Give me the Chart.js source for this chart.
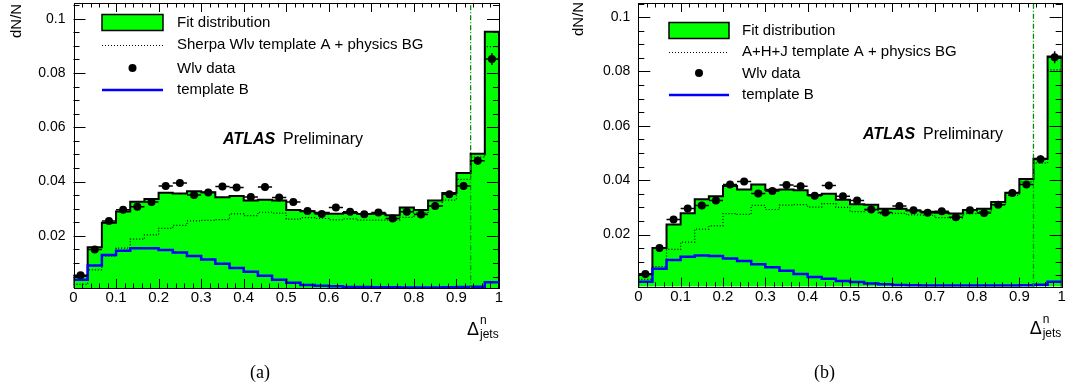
<!DOCTYPE html>
<html>
<head>
<meta charset="utf-8">
<title>Delta n jets template fit</title>
<script src="https://cdn.jsdelivr.net/npm/chart.js@4.4.1/dist/chart.umd.min.js"></script>
<style>
    html, body { margin: 0; padding: 0; background: #fff; }
    body { width: 1067px; height: 392px; position: relative; overflow: hidden; }
    canvas { position: absolute; top: -1px; }
    #chartA { left: 0; }
    #chartB { left: 533px; }
    .caption {
        position: absolute; top: 362px;
        font-family: "Liberation Serif", "DejaVu Serif", serif; font-size: 18px;
    }
</style>
</head>
<body>
<canvas id="chartA" width="533" height="393"></canvas>
<canvas id="chartB" width="534" height="393"></canvas>
<div class="caption" style="left:250px">(a)</div>
<div class="caption" style="left:814px">(b)</div>

<script>
/* ==========================
   DATA
========================== */
const nBins = 30;
const xLow = 0, xHigh = 1;
const xTickValues = [0, 0.1, 0.2, 0.3, 0.4, 0.5, 0.6, 0.7, 0.8, 0.9, 1];
const yTickValues = [0.02, 0.04, 0.06, 0.08, 0.1];
const cutX = 0.9333;

// W->lnu data, same in both panels
const wlnuData = [0.0055, 0.0150, 0.0255, 0.0296, 0.0307, 0.0325, 0.0384, 0.0395, 0.0351, 0.0360,
                  0.0382, 0.0378, 0.0343, 0.0380, 0.0341, 0.0325, 0.0292, 0.0281, 0.0305, 0.0289,
                  0.0280, 0.0286, 0.0264, 0.0289, 0.0279, 0.0310, 0.0353, 0.0384, 0.0477, 0.0852];
const wlnuErr = [0.0006, 0.0009, 0.0011, 0.0011, 0.0012, 0.0012, 0.0013, 0.0013, 0.0012, 0.0012,
                 0.0013, 0.0013, 0.0012, 0.0013, 0.0012, 0.0012, 0.0011, 0.0011, 0.0011, 0.0011,
                 0.0011, 0.0011, 0.0011, 0.0011, 0.0011, 0.0012, 0.0012, 0.0013, 0.0015, 0.0022];

// (a) Sherpa
const fitA = [0.0052, 0.0158, 0.0248, 0.0290, 0.0326, 0.0336, 0.0359, 0.0356, 0.0364, 0.0361,
              0.0342, 0.0347, 0.0330, 0.0333, 0.0330, 0.0295, 0.0291, 0.0285, 0.0282, 0.0284,
              0.0281, 0.0282, 0.0276, 0.0305, 0.0295, 0.0330, 0.0358, 0.0432, 0.0503, 0.0952];
const templABgA = [0.0021, 0.0075, 0.0125, 0.0155, 0.0188, 0.0204, 0.0228, 0.0239, 0.0255, 0.0257,
                   0.0260, 0.0281, 0.0275, 0.0287, 0.0284, 0.0262, 0.0267, 0.0264, 0.0259, 0.0263,
                   0.0258, 0.0258, 0.0258, 0.0268, 0.0284, 0.0310, 0.0332, 0.0408, 0.0490, 0.0897];
const templBA = [0.0038, 0.0091, 0.0130, 0.0145, 0.0154, 0.0154, 0.0148, 0.0139, 0.0126, 0.0113,
                 0.0097, 0.0082, 0.0068, 0.0053, 0.0038, 0.0027, 0.0019, 0.0016, 0.0014, 0.0012,
                 0.0012, 0.0011, 0.0011, 0.0010, 0.0010, 0.0010, 0.0011, 0.0012, 0.0013, 0.0029];

// (b) A+H+J
const fitB = [0.0054, 0.0150, 0.0237, 0.0278, 0.0330, 0.0341, 0.0379, 0.0366, 0.0384, 0.0365,
              0.0366, 0.0363, 0.0345, 0.0350, 0.0328, 0.0311, 0.0310, 0.0295, 0.0295, 0.0288,
              0.0284, 0.0280, 0.0277, 0.0290, 0.0295, 0.0320, 0.0354, 0.0404, 0.0479, 0.0855];
const templABgB = [0.0035, 0.0082, 0.0145, 0.0172, 0.0220, 0.0232, 0.0277, 0.0274, 0.0307, 0.0292,
                   0.0308, 0.0310, 0.0301, 0.0314, 0.0300, 0.0284, 0.0289, 0.0277, 0.0278, 0.0272,
                   0.0271, 0.0262, 0.0260, 0.0277, 0.0284, 0.0310, 0.0344, 0.0394, 0.0463, 0.0806];
const templBB = [0.0026, 0.0074, 0.0106, 0.0118, 0.0123, 0.0121, 0.0112, 0.0103, 0.0091, 0.0080,
                 0.0067, 0.0055, 0.0044, 0.0037, 0.0029, 0.0025, 0.0020, 0.0017, 0.0014, 0.0013,
                 0.0012, 0.0012, 0.0012, 0.0012, 0.0012, 0.0012, 0.0012, 0.0013, 0.0015, 0.0026];

const legendLabelsA = ["Fit distribution", "Sherpa Wl\u03bd template A + physics BG", "Wl\u03bd data", "template B"];
const legendLabelsB = ["Fit distribution", "A+H+J template A + physics BG", "Wl\u03bd data", "template B"];

/* ==========================
   HELPERS
========================== */
const FONT = '"Liberation Sans", Arial, Helvetica, sans-serif';
Chart.defaults.font.family = FONT;
Chart.defaults.color = "#000";

const binWidth = (xHigh - xLow) / nBins;
const binEdge = i => xLow + i * binWidth;
const binCenter = i => xLow + (i + 0.5) * binWidth;

// step points on the left bin edges; optional drop to the axis at both ends
function histPoints(values, drop) {
    const pts = [];
    if (drop) pts.push({ x: binEdge(0), y: 0 });
    values.forEach((v, i) => pts.push({ x: binEdge(i), y: v }));
    pts.push({ x: binEdge(values.length), y: values[values.length - 1] });
    if (drop) pts.push({ x: binEdge(values.length), y: 0 });
    return pts;
}

/* ==========================
   ROOT-STYLE DECORATIONS
========================== */
const rootLook = {
    id: "rootLook",
    afterDatasetsDraw(chart, args, o) {
        const { ctx, chartArea: a, scales: { x, y } } = chart;
        ctx.save();

        // error bars of the data points
        ctx.strokeStyle = "#000";
        ctx.lineWidth = 1.5;
        ctx.beginPath();
        wlnuData.forEach((v, i) => {
            const c = binCenter(i);
            const py = y.getPixelForValue(v);
            const px = x.getPixelForValue(c);
            ctx.moveTo(x.getPixelForValue(c - binWidth / 2), py);
            ctx.lineTo(x.getPixelForValue(c + binWidth / 2), py);
            ctx.moveTo(px, y.getPixelForValue(v - wlnuErr[i]));
            ctx.lineTo(px, y.getPixelForValue(v + wlnuErr[i]));
        });
        ctx.stroke();

        // frame with inward ticks on all four sides
        ctx.lineWidth = 1;
        ctx.strokeRect(Math.round(a.left) + 0.5, Math.round(a.top) + 0.5,
                       Math.round(a.right) - Math.round(a.left), Math.round(a.bottom) - Math.round(a.top));
        ctx.beginPath();
        for (let i = 0; i <= 50; i++) {
            const px = Math.round(x.getPixelForValue(i / 50)) + 0.5;
            const len = i % 5 === 0 ? 9 : 4.5;
            ctx.moveTo(px, a.bottom); ctx.lineTo(px, a.bottom - len);
            ctx.moveTo(px, a.top); ctx.lineTo(px, a.top + len);
        }
        for (let i = 1; i * 0.005 < y.max; i++) {
            const py = Math.round(y.getPixelForValue(i * 0.005)) + 0.5;
            const len = i % 4 === 0 ? 12 : 6;
            ctx.moveTo(a.left, py); ctx.lineTo(a.left + len, py);
            ctx.moveTo(a.right, py); ctx.lineTo(a.right - len, py);
        }
        ctx.stroke();
        ctx.restore();
    },
    afterDraw(chart, args, o) {
        const { ctx, chartArea: a } = chart;
        const L = o.legend;
        ctx.save();

        // legend
        ctx.fillStyle = "#00ff00";
        ctx.fillRect(L.left, L.rows[0] - 8.5, L.right - L.left, 16);
        ctx.strokeStyle = "#000";
        ctx.lineWidth = 1.5;
        ctx.strokeRect(L.left, L.rows[0] - 8.5, L.right - L.left, 16);

        ctx.lineWidth = 1.2;
        ctx.setLineDash([1, 2]);
        ctx.beginPath();
        ctx.moveTo(L.left, L.rows[1] + 0.5); ctx.lineTo(L.right, L.rows[1] + 0.5);
        ctx.stroke();
        ctx.setLineDash([]);

        ctx.fillStyle = "#000";
        ctx.beginPath();
        ctx.arc((L.left + L.right) / 2, L.rows[2] - 1, 4, 0, Math.PI * 2);
        ctx.fill();

        ctx.strokeStyle = "#0000ff";
        ctx.lineWidth = 2.5;
        ctx.beginPath();
        ctx.moveTo(L.left, L.rows[3]); ctx.lineTo(L.right, L.rows[3]);
        ctx.stroke();

        ctx.fillStyle = "#000";
        ctx.font = "15px " + FONT;
        ctx.textBaseline = "middle";
        L.labels.forEach((t, i) => ctx.fillText(t, L.textX, L.rows[i]));

        // ATLAS Preliminary
        ctx.font = "italic bold 16px " + FONT;
        ctx.fillText("ATLAS", o.atlas.x, o.atlas.y);
        ctx.font = "16px " + FONT;
        ctx.fillText("Preliminary", o.atlas.x + 60, o.atlas.y);

        // x title: Delta^n_jets, right aligned under the axis
        ctx.textBaseline = "alphabetic";
        ctx.font = "18px " + FONT;
        ctx.fillText("\u0394", a.right - 32, a.bottom + 47);
        ctx.font = "12px " + FONT;
        ctx.fillText("n", a.right - 19, a.bottom + 36);
        ctx.fillText("jets", a.right - 19, a.bottom + 50);

        // y title, rotated, at the top of the axis
        ctx.translate(o.yTitle.x, o.yTitle.y);
        ctx.rotate(-Math.PI / 2);
        ctx.font = "15px " + FONT;
        ctx.fillText("dN/N", 0, 0);
        ctx.restore();
    }
};

/* ==========================
   PANELS
========================== */
function makePanel(canvasId, p) {
    const el = document.getElementById(canvasId);
    if (!el) return console.warn("canvas not found", canvasId);

    new Chart(el.getContext("2d"), {
        type: "line",
        data: {
            datasets: [
                {
                    type: "scatter", label: "data",
                    data: wlnuData.map((v, i) => ({ x: binCenter(i), y: v })),
                    pointRadius: 4, pointBackgroundColor: "#000", pointBorderWidth: 0,
                    order: 0
                },
                {
                    label: "cut", data: [{ x: cutX, y: 0 }, { x: cutX, y: 1 }],
                    borderColor: "#008a00", borderWidth: 1.3, borderDash: [5, 2, 1, 2],
                    pointRadius: 0, order: 1
                },
                {
                    label: "template B", data: histPoints(p.templB, false), stepped: true,
                    borderColor: "#0000ff", borderWidth: 2.5, pointRadius: 0, fill: false, order: 2
                },
                {
                    label: "template A + BG", data: histPoints(p.templA, false), stepped: true,
                    borderColor: "#000", borderWidth: 1.2, borderDash: [1, 2], pointRadius: 0, fill: false, order: 3
                },
                {
                    label: "fit", data: histPoints(p.fit, true), stepped: true,
                    borderColor: "#000", borderWidth: 2, backgroundColor: "#00ff00",
                    fill: "start", pointRadius: 0, order: 4
                }
            ]
        },
        options: {
            responsive: false,
            animation: false,
            events: [],
            layout: { padding: { left: 0, right: p.padRight, top: 0, bottom: 0 } },
            plugins: {
                legend: { display: false },
                tooltip: { enabled: false },
                rootLook: { legend: p.legend, atlas: p.atlas, yTitle: p.yTitle }
            },
            scales: {
                x: {
                    type: "linear", min: xLow, max: xHigh,
                    grid: { display: false, drawTicks: false },
                    border: { display: false },
                    afterBuildTicks: s => { s.ticks = xTickValues.map(v => ({ value: v })); },
                    afterFit: s => { s.height = p.xHeight; s.paddingLeft = 0; s.paddingRight = 0; },
                    ticks: { font: { size: 15 }, padding: 1, maxRotation: 0, autoSkip: false,
                             callback: v => String(v) }
                },
                y: {
                    type: "linear", min: p.yMin, max: p.yMax,
                    grid: { display: false, drawTicks: false },
                    border: { display: false },
                    afterBuildTicks: s => { s.ticks = yTickValues.map(v => ({ value: v })); },
                    afterFit: s => { s.width = p.yWidth; s.paddingTop = 0; s.paddingBottom = 0; },
                    ticks: { font: { size: 14 }, padding: 8, callback: v => String(v) }
                }
            }
        },
        plugins: [rootLook]
    });
}

makePanel("chartA", {
    fit: fitA, templA: templABgA, templB: templBA,
    yMin: 0.0008, yMax: 0.1058,
    yWidth: 73.5, padRight: 34, xHeight: 104,
    legend: { left: 102, right: 163, textX: 177, rows: [24, 46, 70, 91], labels: legendLabelsA },
    atlas: { x: 223, y: 141 },
    yTitle: { x: 21, y: 39 }
});

makePanel("chartB", {
    fit: fitB, templA: templABgB, templB: templBB,
    yMin: 0.0008, yMax: 0.1052,
    yWidth: 105.3, padRight: 5.3, xHeight: 105.3,
    legend: { left: 136, right: 196, textX: 209, rows: [32, 53, 75, 96], labels: legendLabelsB },
    atlas: { x: 330, y: 136 },
    yTitle: { x: 50, y: 37 }
});
</script>
</body>
</html>
